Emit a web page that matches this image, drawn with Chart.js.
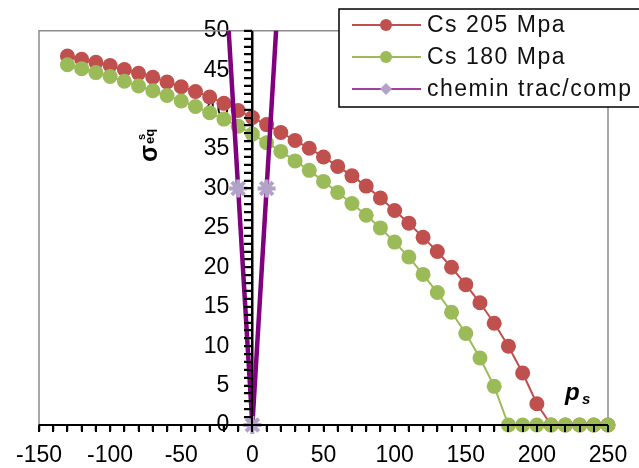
<!DOCTYPE html>
<html>
<head>
<meta charset="utf-8">
<script src="https://cdn.jsdelivr.net/npm/chart.js@4.4.1/dist/chart.umd.min.js"></script>
<style>
  html, body { margin: 0; padding: 0; background: #fff; }
  #wrap { width: 639px; height: 468px; }
</style>
</head>
<body>
<div id="wrap"><canvas id="chart" width="639" height="468"></canvas></div>
<script>
// p_s values (x) shared by both Cs series
var psValues = [-130, -120, -110, -100, -90, -80, -70, -60, -50, -40, -30, -20, -10,
                0, 10, 20, 30, 40, 50, 60, 70, 80, 90, 100, 110, 120, 130, 140, 150,
                160, 170, 180, 190, 200, 210, 220, 230, 240, 250];
var cs205 = [46.8, 46.4, 46.0, 45.6, 45.1, 44.6, 44.1, 43.5, 42.9, 42.3, 41.6, 40.8, 39.9,
             39.0, 38.1, 37.1, 36.1, 35.1, 34.0, 32.8, 31.6, 30.3, 28.8, 27.2, 25.6, 23.8, 22.0, 20.0, 17.8,
             15.5, 12.9, 10.0, 6.6, 2.7, 0, 0, 0, 0, 0];
var cs180 = [45.7, 45.2, 44.7, 44.2, 43.6, 43.0, 42.4, 41.8, 41.1, 40.4, 39.6, 38.8, 37.9,
             36.9, 35.8, 34.7, 33.5, 32.3, 30.9, 29.5, 28.1, 26.6, 25.0, 23.2, 21.3, 19.1, 16.8, 14.3, 11.6,
             8.5, 4.9, 0, 0, 0, 0, 0, 0, 0, 0];
// loading path
var pathX = [-20, -10, 0, 10, 20];
var pathY = [60, 30, 0, 30, 60];

var seriesLabels = ["Cs 205 Mpa", "Cs 180 Mpa", "chemin trac/comp"];
var xTickLabels = [-150, -100, -50, 0, 50, 100, 150, 200, 250];
var yTickLabels = [0, 5, 10, 15, 20, 25, 30, 35, 40, 45, 50];
var xMinorStep = 10;
var yMinorStep = 1;

function toPoints(xs, ys) {
  return xs.map(function (x, i) { return { x: x, y: ys[i] }; });
}

Chart.defaults.font.family = "'Liberation Sans', Arial, sans-serif";
Chart.defaults.color = '#000';

// the y axis sits at x = 0, push its labels a bit to the left of the tick marks
var yLabelShift = {
  id: 'yLabelShift',
  afterLayout: function (chart) {
    var items = chart.scales.y.getLabelItems(chart.chartArea);
    items.forEach(function (it) { it.options.translation[0] -= 23; });
  }
};

// gray plot frame
var framePlugin = {
  id: 'frame',
  beforeDatasetsDraw: function (chart) {
    var a = chart.chartArea, ctx = chart.ctx;
    ctx.save();
    ctx.strokeStyle = '#8c8c8c';
    ctx.lineWidth = 1.5;
    ctx.beginPath();
    ctx.moveTo(a.left, a.bottom);
    ctx.lineTo(a.left, a.top);
    ctx.lineTo(a.right, a.top);
    ctx.lineTo(a.right, a.bottom);
    ctx.stroke();
    ctx.restore();
  }
};

var titlesPlugin = {
  id: 'titles',
  afterDraw: function (chart) {
    var ctx = chart.ctx;
    ctx.save();
    ctx.fillStyle = '#000';
    ctx.textBaseline = 'alphabetic';
    // sigma_eq^s, rotated
    ctx.translate(157, 162);
    ctx.rotate(-Math.PI / 2);
    ctx.font = "bold 25px 'Liberation Sans', Arial";
    ctx.fillText('σ', 0, 0);
    var w = ctx.measureText('σ').width;
    ctx.font = "bold 13px 'Liberation Sans', Arial";
    ctx.fillText('eq', w + 1, -3);
    ctx.font = "bold 11px 'Liberation Sans', Arial";
    ctx.fillText('s', w + 5, -12);
    ctx.restore();

    ctx.save();
    ctx.fillStyle = '#000';
    ctx.font = "bold italic 24px 'Liberation Sans', Arial";
    ctx.fillText('p', 565, 400);
    ctx.font = "bold italic 15px 'Liberation Sans', Arial";
    ctx.fillText('s', 582, 404);
    ctx.restore();
  }
};

var legendPlugin = {
  id: 'boxLegend',
  afterDraw: function (chart) {
    var ctx = chart.ctx;
    var rows = [25, 57, 89];
    ctx.save();
    ctx.fillStyle = '#fff';
    ctx.fillRect(339, 9, 310, 98);
    ctx.strokeStyle = '#000';
    ctx.lineWidth = 1.5;
    ctx.strokeRect(339, 9, 310, 98);
    chart.data.datasets.forEach(function (ds, i) {
      var y = rows[i];
      ctx.strokeStyle = ds.borderColor;
      ctx.lineWidth = i === 2 ? 1.5 : 2;
      ctx.beginPath();
      ctx.moveTo(352, y);
      ctx.lineTo(421, y);
      ctx.stroke();
      ctx.fillStyle = ds.pointBackgroundColor || ds.backgroundColor;
      ctx.beginPath();
      if (i === 2) {
        ctx.moveTo(386, y - 6);
        ctx.lineTo(392, y);
        ctx.lineTo(386, y + 6);
        ctx.lineTo(380, y);
        ctx.closePath();
      } else {
        ctx.arc(386, y, 6, 0, Math.PI * 2);
      }
      ctx.fill();
      ctx.fillStyle = '#111';
      ctx.font = "23px 'Liberation Sans', Arial";
      ctx.letterSpacing = '1.5px';
      ctx.textBaseline = 'middle';
      ctx.fillText(ds.label, 427, y + 1);
    });
    ctx.restore();
  }
};

// axis lines and minor tick marks, placed through the scales, drawn last
var axisTicks = {
  id: 'axisTicks',
  afterDraw: function (chart) {
    var a = chart.chartArea, ctx = chart.ctx;
    var xs = chart.scales.x, ys = chart.scales.y;
    var x0 = Math.round(xs.getPixelForValue(0));
    var yb = Math.round(a.bottom);
    var v, p;
    ctx.save();
    ctx.fillStyle = '#000';
    for (v = xs.min; v <= xs.max + 0.001; v += xMinorStep) {
      p = Math.round(xs.getPixelForValue(v));
      ctx.fillRect(p - 1, yb, 2, 7);
    }
    for (v = ys.min; v <= ys.max + 0.001; v += yMinorStep) {
      p = Math.round(ys.getPixelForValue(v));
      ctx.fillRect(x0 - 8, p - 1, 8, 2);
    }
    ctx.fillRect(x0 - 1, Math.round(a.top), 2, yb - Math.round(a.top));
    ctx.fillRect(Math.round(a.left), yb - 1, Math.round(a.right - a.left), 2);
    ctx.restore();
  }
};

var ctx = document.getElementById('chart');
var chart = new Chart(ctx, {
  type: 'scatter',
  data: {
    datasets: [{
      label: seriesLabels[0],
      data: toPoints(psValues, cs205),
      showLine: true,
      borderColor: '#c0504d',
      backgroundColor: '#c0504d',
      borderWidth: 2,
      pointRadius: 7.5,
      pointHoverRadius: 7.5,
      pointBorderWidth: 0,
      order: 3,
      clip: 10
    }, {
      label: seriesLabels[1],
      data: toPoints(psValues, cs180),
      showLine: true,
      borderColor: '#9bbb59',
      backgroundColor: '#9bbb59',
      borderWidth: 2,
      pointRadius: 7.5,
      pointHoverRadius: 7.5,
      pointBorderWidth: 0,
      order: 2,
      clip: 10
    }, {
      label: seriesLabels[2],
      data: toPoints(pathX, pathY),
      showLine: true,
      borderColor: '#800080',
      backgroundColor: '#b3a2c7',
      pointBackgroundColor: '#b3a2c7',
      pointBorderColor: '#b3a2c7',
      pointStyle: 'star',
      pointRadius: 9,
      pointHoverRadius: 9,
      pointBorderWidth: 4,
      borderWidth: 4.5,
      order: 1,
      clip: { left: 10, right: 10, top: 0, bottom: 12 }
    }]
  },
  options: {
    responsive: false,
    animation: false,
    devicePixelRatio: 1,
    layout: { padding: { left: 39, right: 31, top: 22, bottom: 0 } },
    elements: { line: { tension: 0 } },
    plugins: {
      legend: { display: false },
      tooltip: { enabled: false }
    },
    scales: {
      x: {
        type: 'linear',
        min: -150,
        max: 250,
        afterFit: function (s) { s.height = 43; },
        border: { color: '#000', width: 1.5 },
        grid: { drawOnChartArea: false, tickLength: 6, tickColor: '#000', tickWidth: 1.5 },
        ticks: {
          stepSize: 10,
          autoSkip: false,
          maxRotation: 0,
          padding: 11,
          font: { size: 23 },
          callback: function (v) { return xTickLabels.indexOf(v) >= 0 ? String(v) : ''; }
        }
      },
      y: {
        type: 'linear',
        min: 0,
        max: 50,
        position: { x: 0 },
        border: { color: '#000', width: 1.5 },
        grid: { drawOnChartArea: false, tickLength: 8, tickColor: '#000', tickWidth: 1.5 },
        ticks: {
          stepSize: 1,
          autoSkip: false,
          padding: 17,
          font: { size: 23 },
          callback: function (v) { return yTickLabels.indexOf(v) >= 0 ? String(v) : ''; }
        }
      }
    }
  },
  plugins: [yLabelShift, framePlugin, titlesPlugin, legendPlugin, axisTicks]
});
</script>
</body>
</html>
